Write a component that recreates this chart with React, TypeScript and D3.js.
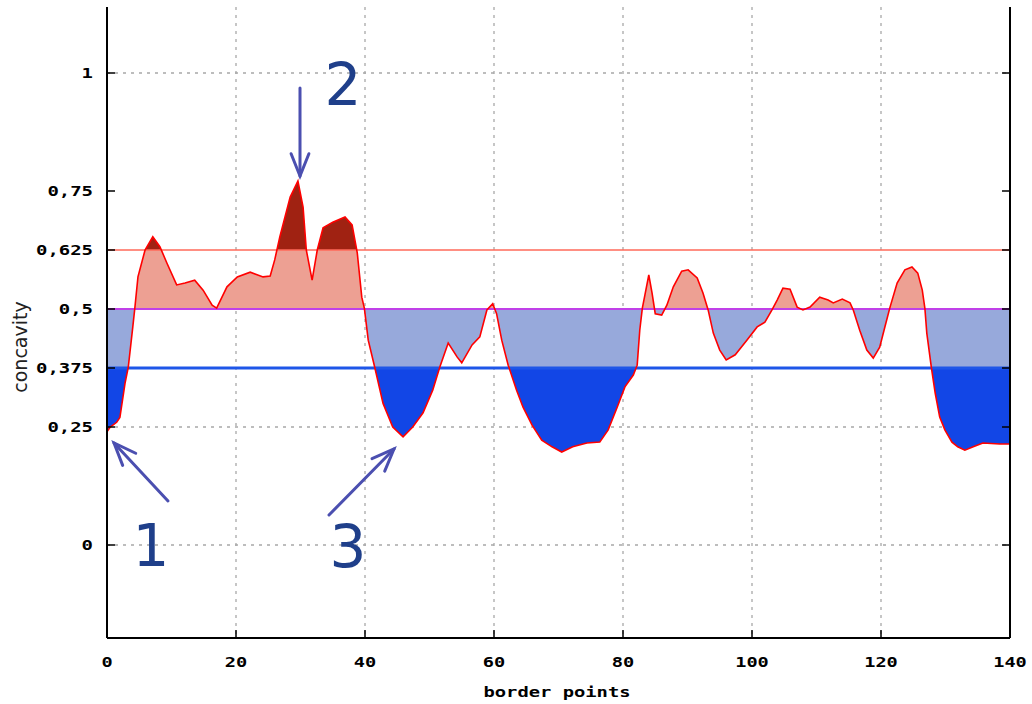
import React from "react";
import * as d3 from "d3";

// border point index -> concavity
const pointIdx = [
  0, 0.5, 1.5, 2.0, 2.8, 3.3, 4.0, 4.3, 4.8, 5.9, 7.1, 8.2, 9.3, 10.8, 12.1, 13.6, 14.9, 16.3, 17.0,
  18.6, 20.2, 22.2, 24.2, 25.3, 26.0, 26.8, 28.4, 29.6, 30.4, 30.9, 31.8, 32.6, 33.5, 35.0, 36.9,
  38.0, 38.8, 39.5, 39.9, 40.5, 41.5, 42.8, 44.3, 45.9, 47.4, 49.0, 50.5, 51.6, 52.9, 54.3, 55.0,
  56.6, 57.8, 58.9, 59.8, 60.4, 61.2, 62.2, 63.5, 64.5, 65.9, 67.4, 69.0, 70.5, 72.2, 74.4, 76.4,
  77.7, 79.1, 80.3, 81.6, 82.2, 82.6, 83.0, 83.4, 84.0, 84.5, 85.0, 86.0, 86.8, 87.8, 89.1, 90.1,
  91.5, 92.4, 93.2, 94.0, 95.0, 96.0, 97.4, 99.2, 100.8, 102.0, 103.1, 103.9, 104.8, 105.9, 107.0,
  107.9, 109.0, 110.5, 111.8, 112.6, 114.0, 115.2, 115.7, 116.7, 117.8, 118.8, 119.8, 120.6, 121.4,
  122.5, 123.7, 124.8, 125.7, 126.4, 126.8, 127.1, 127.8, 128.4, 129.1, 129.9, 131.0, 131.9, 133.0,
  134.3, 135.8, 138.4, 140,
];
const concavity = [
  0.24, 0.25, 0.26, 0.27, 0.343, 0.377, 0.462, 0.5, 0.568, 0.625, 0.653, 0.632, 0.597, 0.551, 0.555,
  0.561, 0.54, 0.508, 0.502, 0.547, 0.568, 0.578, 0.568, 0.57, 0.604, 0.653, 0.737, 0.771, 0.716,
  0.625, 0.561, 0.625, 0.672, 0.684, 0.695, 0.678, 0.619, 0.525, 0.502, 0.434, 0.377, 0.3, 0.25,
  0.229, 0.25, 0.28, 0.328, 0.377, 0.428, 0.398, 0.386, 0.424, 0.441, 0.498, 0.511, 0.49, 0.434,
  0.381, 0.328, 0.292, 0.254, 0.222, 0.208, 0.197, 0.208, 0.216, 0.218, 0.244, 0.292, 0.335, 0.36,
  0.381, 0.455, 0.502, 0.53, 0.572, 0.534, 0.49, 0.487, 0.508, 0.547, 0.58, 0.583, 0.566, 0.534,
  0.498, 0.449, 0.413, 0.392, 0.403, 0.434, 0.462, 0.472, 0.498, 0.519, 0.544, 0.542, 0.504, 0.498,
  0.504, 0.525, 0.519, 0.513, 0.521, 0.513, 0.498, 0.455, 0.413, 0.396, 0.419, 0.462, 0.504, 0.555,
  0.583, 0.589, 0.576, 0.54, 0.502, 0.449, 0.377, 0.322, 0.271, 0.244, 0.218, 0.208, 0.201, 0.208,
  0.216, 0.214, 0.214,
];

const xTicks = [0, 20, 40, 60, 80, 100, 120, 140];
const yTicks = [0, 0.25, 0.375, 0.5, 0.625, 0.75, 1];
const yTickLabels = ["0", "0,25", "0,375", "0,5", "0,625", "0,75", "1"];
const xGrid = [20, 40, 60, 80, 100, 120];
const yGrid = [0, 0.25, 1];
const thresholds = [0.375, 0.5, 0.625];

const W = 1032;
const H = 704;
const left = 107;
const right = 1010;
const bottom = 638;
const top = 7;

const arrows = [
  { x1: 168, y1: 501, x2: 114, y2: 443 },
  { x1: 300, y1: 88, x2: 300, y2: 176 },
  { x1: 329, y1: 515, x2: 394, y2: 449 },
];
const marks = [
  { t: "1", x: 151, y: 566 },
  { t: "2", x: 343, y: 105 },
  { t: "3", x: 348, y: 567 },
];

const pixFont = "'DejaVu Sans Mono', monospace";

type Pt = { p: number; v: number };

export default function App() {
  const x = d3.scaleLinear().domain([0, 140]).range([left, right]);
  const y = d3.scaleLinear().domain([0, 1]).range([545, 73]);

  const data: Pt[] = pointIdx.map((p, i) => ({ p, v: concavity[i] }));

  // add the points where the polyline crosses each threshold so the bands meet cleanly
  const dense: Pt[] = [];
  data.forEach((d, i) => {
    if (i > 0) {
      const a = data[i - 1];
      const cross = thresholds
        .filter((t) => (a.v - t) * (d.v - t) < 0)
        .map((t) => ({ p: a.p + ((t - a.v) / (d.v - a.v)) * (d.p - a.p), v: t }))
        .sort((m, n) => m.p - n.p);
      dense.push(...cross);
    }
    dense.push(d);
  });

  const bands = [
    { lo: 0.625, hi: 2, base: 0.625, fill: "#a02212" },
    { lo: 0.5, hi: 0.625, base: 0.5, fill: "#eda093" },
    { lo: 0.375, hi: 0.5, base: 0.5, fill: "#97a9db" },
    { lo: -1, hi: 0.375, base: 0.375, fill: "#1246e6" },
  ];

  const line = d3
    .line<Pt>()
    .x((d) => x(d.p))
    .y((d) => y(d.v));

  const lineColors: Record<number, [string, number]> = {
    0.625: ["#ff6a5a", 1.5],
    0.5: ["#c040e8", 2],
    0.375: ["#1e56e8", 3],
  };

  return (
    <svg
      width={W}
      height={H}
      style={{ position: "absolute", left: 0, top: 0, background: "#fff" }}
    >
      {/* grid */}
      {xGrid.map((t) => (
        <line key={"gx" + t} x1={x(t)} x2={x(t)} y1={top} y2={bottom} stroke="#a8a8a8"
          strokeWidth={1.3} strokeDasharray="3,5" />
      ))}
      {yGrid.map((t) => (
        <line key={"gy" + t} x1={left} x2={right} y1={y(t)} y2={y(t)} stroke="#a8a8a8"
          strokeWidth={1.3} strokeDasharray="3,5" />
      ))}

      {/* filled regions, one per band */}
      {bands.map((b, i) => {
        const area = d3
          .area<Pt>()
          .x((d) => x(d.p))
          .y0(y(b.base))
          .y1((d) => y(Math.max(b.lo, Math.min(b.hi, d.v))));
        return <path key={"band" + i} d={area(dense) || ""} fill={b.fill} />;
      })}

      {/* threshold lines */}
      {thresholds.map((t) => (
        <line key={"th" + t} x1={left} x2={right} y1={y(t)} y2={y(t)}
          stroke={lineColors[t][0]} strokeWidth={lineColors[t][1]} />
      ))}

      <path d={line(data) || ""} fill="none" stroke="#ff0000" strokeWidth={1.6} />

      {/* axes frame */}
      <line x1={left} x2={left} y1={top} y2={bottom} stroke="#000" strokeWidth={2} />
      <line x1={right} x2={right} y1={top} y2={bottom} stroke="#000" strokeWidth={2} />
      <line x1={left} x2={right} y1={bottom} y2={bottom} stroke="#000" strokeWidth={2} />

      {yTicks.map((t, i) => (
        <g key={"yt" + t}>
          <line x1={left} x2={left + 8} y1={y(t)} y2={y(t)} stroke="#000" strokeWidth={1.5} />
          <line x1={right - 8} x2={right} y1={y(t)} y2={y(t)} stroke="#000" strokeWidth={1.5} />
          <text x={93} y={y(t)} dy="0.35em" textAnchor="end" fontFamily={pixFont}
            fontWeight="bold" fontSize={14} textLength={yTickLabels[i].length * 11.4}
            lengthAdjust="spacingAndGlyphs">
            {yTickLabels[i]}
          </text>
        </g>
      ))}
      {xTicks.map((t) => (
        <g key={"xt" + t}>
          <line x1={x(t)} x2={x(t)} y1={bottom} y2={bottom - 8} stroke="#000" strokeWidth={1.5} />
          <text x={x(t)} y={662} dy="0.35em" textAnchor="middle" fontFamily={pixFont}
            fontWeight="bold" fontSize={14} textLength={String(t).length * 11.2}
            lengthAdjust="spacingAndGlyphs">
            {t}
          </text>
        </g>
      ))}

      <text x={557} y={692} dy="0.35em" textAnchor="middle" fontFamily={pixFont}
        fontWeight="bold" fontSize={14} textLength={147} lengthAdjust="spacingAndGlyphs">
        border points
      </text>
      <text transform="translate(20,347) rotate(-90)" textAnchor="middle" dy="0.35em"
        fontFamily="'DejaVu Sans', sans-serif" fontSize={19} fill="#222">
        concavity
      </text>

      {/* annotations */}
      {arrows.map((a, i) => {
        const ang = Math.atan2(a.y2 - a.y1, a.x2 - a.x1);
        const len = 24;
        const spread = 0.38;
        const h1x = a.x2 - len * Math.cos(ang - spread);
        const h1y = a.y2 - len * Math.sin(ang - spread);
        const h2x = a.x2 - len * Math.cos(ang + spread);
        const h2y = a.y2 - len * Math.sin(ang + spread);
        return (
          <g key={"ar" + i} stroke="#4b4fb0" strokeWidth={3} strokeLinecap="round" fill="none">
            <line x1={a.x1} y1={a.y1} x2={a.x2} y2={a.y2} />
            <polyline points={`${h1x},${h1y} ${a.x2},${a.y2} ${h2x},${h2y}`} />
          </g>
        );
      })}
      {marks.map((m) => (
        <text key={m.t} x={m.x} y={m.y} textAnchor="middle" fontFamily="'DejaVu Sans', sans-serif"
          fontSize={58} fill="#1f3f8a">
          {m.t}
        </text>
      ))}
    </svg>
  );
}
